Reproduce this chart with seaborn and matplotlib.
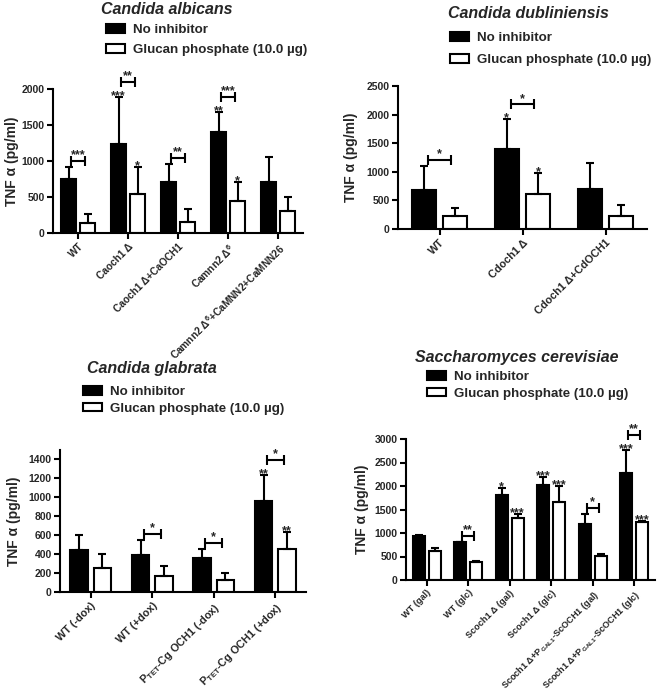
import seaborn as sns
import matplotlib.pyplot as plt
import pandas as pd
import numpy as np
from matplotlib.patches import Patch

sns.set_theme(style='ticks')
plt.rcParams['font.family'] = ['Liberation Sans', 'DejaVu Sans']
plt.rcParams['font.weight'] = 'bold'
plt.rcParams['mathtext.fontset'] = 'custom'
plt.rcParams['mathtext.rm'] = 'Liberation Sans:bold'
plt.rcParams['mathtext.it'] = 'Liberation Sans:italic:bold'
plt.rcParams['mathtext.bf'] = 'Liberation Sans:bold'

# TNF alpha (pg/ml): mean and upper SD
treatments = ['No inhibitor', 'Glucan phosphate (10.0 µg)']

# Candida albicans
alb_strains = ['WT', 'Caoch1 Δ', 'Caoch1 Δ+CaOCH1', 'Camnn2 Δ$^{6}$', 'Camnn2 Δ$^{6}$+CaMNN2+CaMNN26']
alb_none = [750, 1235, 715, 1405, 705]
alb_none_sd = [170, 650, 240, 280, 355]
alb_glucan = [135, 537, 157, 444, 306]
alb_glucan_sd = [125, 375, 172, 269, 190]
alb_star_none = ['', '***', '', '**', '']
alb_star_glucan = ['', '*', '', '*', '']
alb_star_pair = ['***', '**', '**', '***', '']

# Candida dubliniensis
dub_strains = ['WT', 'Cdoch1 Δ', 'Cdoch1 Δ+CdOCH1']
dub_none = [690, 1395, 695]
dub_none_sd = [410, 520, 465]
dub_glucan = [222, 620, 227]
dub_glucan_sd = [145, 360, 200]
dub_star_none = ['', '*', '']
dub_star_glucan = ['', '*', '']
dub_star_pair = ['*', '*', '']

# Candida glabrata
gla_strains = ['WT (-dox)', 'WT (+dox)', r'P$_{\mathrm{TET}}$-Cg OCH1 (-dox)', r'P$_{\mathrm{TET}}$-Cg OCH1 (+dox)']
gla_none = [440, 395, 355, 960]
gla_none_sd = [165, 155, 100, 280]
gla_glucan = [250, 168, 126, 451]
gla_glucan_sd = [150, 105, 70, 180]
gla_star_none = ['', '', '', '**']
gla_star_glucan = ['', '', '', '**']
gla_star_pair = ['', '*', '*', '*']

# Saccharomyces cerevisiae
cer_strains = ['WT (gal)', 'WT (glc)', 'Scoch1 Δ (gal)', 'Scoch1 Δ (glc)',
               r'Scoch1 Δ+P$_{\mathrm{GAL1}}$-ScOCH1 (gal)', r'Scoch1 Δ+P$_{\mathrm{GAL1}}$-ScOCH1 (glc)']
cer_none = [945, 800, 1810, 2020, 1195, 2270]
cer_none_sd = [20, 10, 145, 165, 205, 495]
cer_glucan = [620, 390, 1315, 1665, 515, 1240]
cer_glucan_sd = [60, 10, 90, 340, 40, 20]
cer_star_none = ['', '', '*', '***', '', '***']
cer_star_glucan = ['', '', '***', '***', '', '***']
cer_star_pair = ['', '**', '', '', '*', '**']

W, H = 661, 694
fig = plt.figure(figsize=(W / 100, H / 100), dpi=100)


def px_rect(x0, y0, x1, y1):
    return [x0 / W, 1 - y1 / H, (x1 - x0) / W, (y1 - y0) / H]


def draw_panel(rect, title, title_xy, leg_xy, leg_space, ylab_x, xfont, strains,
               none, none_sd, glucan, glucan_sd, s_none, s_glu, s_pair, ymax, ytop, ystep):
    ax = fig.add_axes(px_rect(*rect))
    n = len(strains)
    df = pd.DataFrame({'strain': strains * 2,
                       'treatment': [treatments[0]] * n + [treatments[1]] * n,
                       'tnf': none + glucan})
    sns.barplot(data=df, x='strain', y='tnf', hue='treatment', palette=['black', 'white'],
                edgecolor='black', linewidth=1.5, width=0.76, gap=0.25, errorbar=None,
                saturation=1, legend=False, ax=ax)
    ax.set_ylim(0, ymax)
    ax.set_xlim(-0.5, n - 0.5)
    ax.set_yticks(np.arange(0, ytop + 1, ystep))
    px = ymax / (rect[3] - rect[1])  # data units per pixel

    tops = []
    for cont, sds, stars in zip(ax.containers, [none_sd, glucan_sd], [s_none, s_glu]):
        xs, ys = [], []
        for bar, sd, st in zip(cont, sds, stars):
            x = bar.get_x() + bar.get_width() / 2
            h = bar.get_height()
            ax.errorbar(x, h, yerr=[[0], [sd]], fmt='none', ecolor='black',
                        elinewidth=1.5, capsize=2.6, capthick=1.5, clip_on=False)
            if st:
                ax.annotate(st, (x, h + sd), xytext=(0, -1.5), textcoords='offset points',
                            ha='center', va='baseline', fontsize=9, annotation_clip=False)
            xs.append(x)
            ys.append(h + sd)
        tops.append((xs, ys))

    for i, st in enumerate(s_pair):
        if not st:
            continue
        bx, by = tops[0][0][i], tops[0][1][i]
        y = by + (15 if s_none[i] else 6) * px
        x0, x1 = bx + 0.05, bx + 0.33
        ax.plot([x0, x1], [y, y], color='black', lw=1.5, marker='|', ms=7, mew=1.5, clip_on=False)
        ax.annotate(st, ((x0 + x1) / 2, y), xytext=(0, 2), textcoords='offset points',
                    ha='center', va='baseline', fontsize=9, annotation_clip=False)

    ax.set_xlabel('')
    ax.set_ylabel('TNF α (pg/ml)', fontsize=10, weight='bold')
    ax.yaxis.set_label_coords(ylab_x, 0.5)
    ax.set_xticks(range(n))
    ax.set_xticklabels(strains, rotation=45, ha='right', rotation_mode='anchor')
    ax.tick_params(axis='both', width=1.5, length=4, color='black', labelsize=7.5, pad=2)
    plt.setp(ax.get_xticklabels(), fontsize=xfont)
    sns.despine(ax=ax)
    for s in ['left', 'bottom']:
        ax.spines[s].set_linewidth(1.5)
        ax.spines[s].set_color('black')

    fig.text(title_xy[0] / W, 1 - title_xy[1] / H, title, ha='center', va='center',
             style='italic', weight='bold', fontsize=11.5)
    handles = [Patch(facecolor='black', edgecolor='black', lw=1.5),
               Patch(facecolor='white', edgecolor='black', lw=1.5)]
    fig.legend(handles, treatments, loc='upper left', bbox_to_anchor=(leg_xy[0] / W, 1 - leg_xy[1] / H),
               frameon=False, fontsize=9.6, handlelength=1.45, handleheight=0.6, handletextpad=0.6,
               labelspacing=leg_space, borderpad=0, borderaxespad=0)
    return ax


draw_panel((53, 89, 303, 233), 'Candida albicans', (167, 9), (106, 24), 0.6, -0.136, 7.3,
           alb_strains, alb_none, alb_none_sd, alb_glucan, alb_glucan_sd,
           alb_star_none, alb_star_glucan, alb_star_pair, 2000, 2000, 500)
draw_panel((398, 86, 647, 229), 'Candida dubliniensis', (528, 13), (450, 32), 0.75, -0.16, 7.8,
           dub_strains, dub_none, dub_none_sd, dub_glucan, dub_glucan_sd,
           dub_star_none, dub_star_glucan, dub_star_pair, 2500, 2500, 500)
draw_panel((60, 450, 306, 592), 'Candida glabrata', (152, 368), (83, 386), 0.37, -0.158, 7.8,
           gla_strains, gla_none, gla_none_sd, gla_glucan, gla_glucan_sd,
           gla_star_none, gla_star_glucan, gla_star_pair, 1500, 1400, 200)
draw_panel((406, 439, 655, 580), 'Saccharomyces cerevisiae', (517, 358), (427, 371), 0.37, -0.149, 6.6,
           cer_strains, cer_none, cer_none_sd, cer_glucan, cer_glucan_sd,
           cer_star_none, cer_star_glucan, cer_star_pair, 3000, 3000, 500)

fig.savefig('out.png', dpi=100)
